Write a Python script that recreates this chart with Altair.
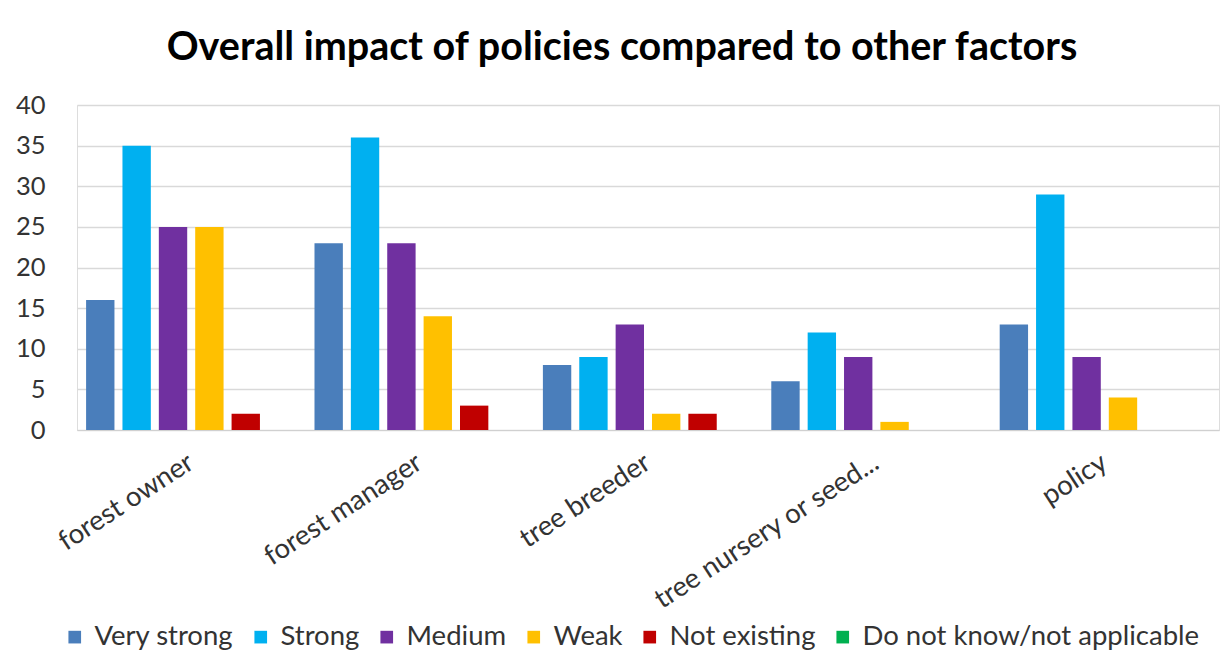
import altair as alt
import pandas as pd

categories = ["forest owner", "forest manager", "tree breeder", "tree nursery or seed...", "policy"]
series = ["Very strong", "Strong", "Medium", "Weak", "Not existing", "Do not know/not applicable"]
colors = ["#4a7ebb", "#00b0f0", "#7030a0", "#ffc000", "#c00000", "#00b050"]

very_strong = [16, 23, 8, 6, 13]
strong = [35, 36, 9, 12, 29]
medium = [25, 23, 13, 9, 9]
weak = [25, 14, 2, 1, 4]
not_existing = [2, 3, 2, 0, 0]
do_not_know = [0, 0, 0, 0, 0]

values = [very_strong, strong, medium, weak, not_existing, do_not_know]
rows = []
for s, vals in zip(series, values):
    for c, v in zip(categories, vals):
        rows.append({"category": c, "series": s, "value": v})
df = pd.DataFrame(rows)

FONT = "Lato"

chart = alt.Chart(df).mark_bar().encode(
    x=alt.X("category:N", sort=categories,
            scale=alt.Scale(paddingInner=0, paddingOuter=0),
            axis=alt.Axis(title=None, labelAngle=-33, labelAlign="right", labelBaseline="middle",
                          labelFontSize=27.5, labelColor="#333333", labelFont=FONT, labelLimit=500,
                          ticks=False, domainColor="#d0d0d0", labelPadding=30)),
    xOffset=alt.XOffset("series:N", sort=series,
                        scale=alt.Scale(paddingInner=0.22, paddingOuter=0.25)),
    y=alt.Y("value:Q", scale=alt.Scale(domain=[0, 40]),
            axis=alt.Axis(title=None, values=[0, 5, 10, 15, 20, 25, 30, 35, 40],
                          labelFontSize=25.5, labelColor="#333333", labelFont=FONT,
                          domain=False, ticks=False, gridColor="#d9d9d9", gridWidth=1.5,
                          labelPadding=32)),
    color=alt.Color("series:N", sort=series,
                    scale=alt.Scale(domain=series, range=colors),
                    legend=alt.Legend(title=None, orient="none", direction="horizontal",
                                      legendX=-16, legendY=518, columns=6,
                                      symbolType="square", symbolSize=160,
                                      symbolStrokeWidth=0, labelLimit=500,
                                      labelFontSize=27.5, labelColor="#333333", labelFont=FONT,
                                      columnPadding=13, symbolOffset=0, labelOffset=6)),
).properties(
    width=1142,
    height=325,
    title=alt.TitleParams("Overall impact of policies compared to other factors",
                          fontSize=39.5, font=FONT, fontWeight="bold", color="#000000",
                          anchor="middle", dx=-26, offset=25),
    autosize=alt.AutoSizeParams(type="none"),
    padding={"left": 77, "top": 105, "right": 7, "bottom": 227},
).configure_view(stroke=None).configure(background="white")

chart.save("out.html", embed_options={"renderer": "svg", "actions": False})
